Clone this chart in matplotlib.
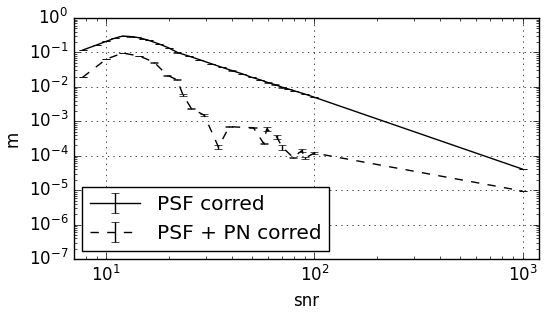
import matplotlib
matplotlib.use("Agg")
import matplotlib.pyplot as plt

# values
snr_psf = [7.7, 9, 10, 11, 12, 13, 14, 15, 16, 18, 20, 22, 25, 28, 32, 36, 40,
           45, 50, 55, 60, 65, 70, 75, 80, 90, 100, 1000]
m_psf = [0.117, 0.165, 0.21, 0.26, 0.30, 0.29, 0.275, 0.25, 0.225, 0.175, 0.135,
         0.10, 0.078, 0.062, 0.047, 0.037, 0.030, 0.024, 0.019, 0.016, 0.0133,
         0.0115, 0.0098, 0.0087, 0.0077, 0.0062, 0.0050, 4.1e-5]
err_psf = [0.0005, 0.0006, 0.0008, 0.001, 0.001, 0.001, 0.001, 0.001, 0.001,
           0.0008, 0.0006, 0.0005, 0.0004, 0.0003, 0.0002, 0.0002, 0.0002,
           0.0002, 0.0002, 0.0002, 0.0003, 0.0003, 0.0003, 0.0002, 0.0001,
           0.0001, 0.00005, 5e-7]

snr_pn = [7.7, 10, 12, 14.4, 17, 19.6, 21.9, 23.4, 25.6, 29.6, 34.6, 39, 51,
          57, 59, 66, 70, 79, 87, 90, 100, 1000]
m_pn = [0.019, 0.064, 0.096, 0.079, 0.052, 0.022, 0.016, 0.0058, 0.0024, 0.0015,
        1.8e-4, 7.0e-4, 6.5e-4, 2.3e-4, 6.0e-4, 3.5e-4, 1.8e-4, 9.0e-5, 1.4e-4,
        8.5e-5, 1.2e-4, 9.5e-6]
err_pn = [0.0002, 0.001, 0.0015, 0.001, 0.001, 0.0008, 0.0006, 0.0003, 0.0001,
          0.0001, 2.5e-5, 2e-5, 3e-5, 1e-5, 9e-5, 5e-5, 3e-5, 5e-6, 1.5e-5,
          5e-6, 5e-6, 2e-7]

plt.style.use("classic")
fig = plt.figure(figsize=(5.5, 3.16), dpi=100)
ax = fig.add_axes([0.1345, 0.18, 0.8455, 0.763])

ax.errorbar(snr_psf, m_psf, yerr=err_psf, color="black", ls="-", lw=1,
            capsize=3, label="PSF corred")
ax.errorbar(snr_pn, m_pn, yerr=err_pn, color="black", ls="--", lw=1,
            capsize=3, label="PSF + PN corred")

ax.set_xscale("log")
ax.set_yscale("log")
ax.set_xlim(7, 1200)
ax.set_ylim(1e-7, 1)
ax.grid(True)
ax.tick_params(labelsize=12)
ax.set_xlabel("snr", fontsize=12)
ax.set_ylabel("m", fontsize=12)
ax.legend(loc="lower left", fontsize=14.5, numpoints=1, borderaxespad=0.4,
          handlelength=2.5)

fig.savefig("out.png", dpi=100)
